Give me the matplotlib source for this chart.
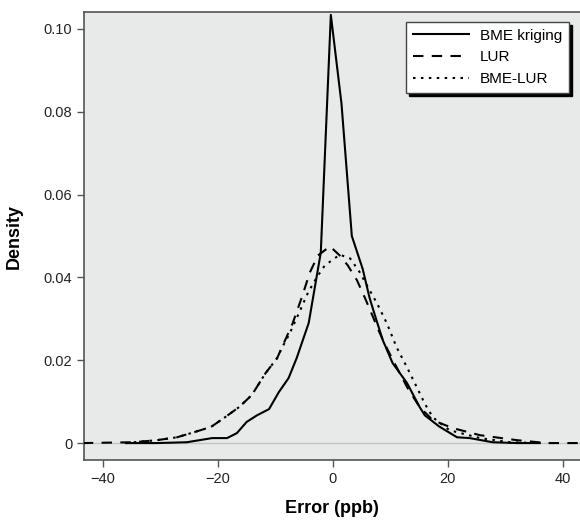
import matplotlib
matplotlib.use("Agg")
import matplotlib.pyplot as plt

# Error (ppb) vs density
KRIG_X = [-36, -30.6, -25.4, -21.0, -18.4, -16.7, -15.0, -13.2, -11.1, -9.4, -7.7,
          -6.3, -4.2, -2.1, -0.35, 1.5, 3.3, 5.2, 6.4, 7.6, 8.7, 10.4, 12.9, 15.1,
          16.0, 18.5, 21.6, 23.8, 27.8, 32.0, 36.0]
KRIG_Y = [0.0, 0.0, 0.0002, 0.0012, 0.0012, 0.0024, 0.0051, 0.0067, 0.0082, 0.0123, 0.0157,
          0.0205, 0.029, 0.046, 0.1034, 0.082, 0.050, 0.042, 0.035, 0.0296, 0.0248, 0.0193,
          0.0145, 0.0087, 0.0067, 0.0040, 0.0014, 0.0012, 0.0002, 0.0, 0.0]

LUR_X = [-43.5, -34.6, -30.6, -27.1, -24.2, -21.2, -19.0, -16.3, -14.1, -11.7, -9.7,
         -7.0, -5.4, -4.0, -2.6, -0.5, 1.2, 2.6, 4.2, 5.6, 7.0, 7.8, 9.0, 11.1, 13.0,
         15.1, 17.4, 20.9, 25.6, 32.0, 37.2, 43.5]
LUR_Y = [0.0, 0.0002, 0.0007, 0.0014, 0.0026, 0.0039, 0.0060, 0.0087, 0.0116, 0.0169, 0.0205,
         0.0289, 0.0352, 0.0412, 0.0453, 0.0475, 0.0453, 0.0429, 0.0393, 0.035, 0.0304, 0.0277,
         0.024, 0.0183, 0.0133, 0.0087, 0.0055, 0.0036, 0.0019, 0.0007, 0.0, 0.0]

BMELUR_X = [-36, -34.6, -30.6, -27.1, -24.2, -21.2, -19.0, -16.3, -14.1, -11.7, -9.7,
            -8.9, -7.5, -5.7, -4.3, -2.8, -1.4, 1.2, 3.0, 4.7, 6.4, 7.7, 9.4, 11.1,
            12.9, 14.6, 16.0, 17.4, 20.3, 25.6, 30.8, 36.0]
BMELUR_Y = [0.0, 0.0002, 0.0007, 0.0014, 0.0026, 0.0039, 0.0060, 0.0087, 0.0116, 0.0169, 0.0205,
            0.0229, 0.0265, 0.032, 0.0364, 0.040, 0.0429, 0.0455, 0.0446, 0.0412, 0.0369, 0.0337,
            0.0289, 0.0231, 0.0183, 0.0135, 0.0095, 0.0062, 0.0031, 0.0012, 0.0002, 0.0]

X_TICKS = [-40, -20, 0, 20, 40]
X_TICK_LABELS = ["\u221240", "\u221220", "0", "20", "40"]
Y_TICKS = [0, 0.02, 0.04, 0.06, 0.08, 0.10]
Y_TICK_LABELS = ["0", "0.02", "0.04", "0.06", "0.08", "0.10"]

FONT = ["Liberation Sans Narrow", "Liberation Sans", "DejaVu Sans"]
PANEL = "#e8e9e9"
SPINE = "#555555"

plt.rcParams["font.family"] = FONT

fig = plt.figure(figsize=(5.8, 5.21), dpi=100)
ax = fig.add_axes([0.1448, 0.117, 0.8552, 0.86])
ax.set_facecolor(PANEL)

ax.axhline(0, color="#c4c4c4", linewidth=1.0, zorder=1)
ax.plot(KRIG_X, KRIG_Y, color="black", linewidth=1.5, label="BME kriging", zorder=3)
ax.plot(LUR_X, LUR_Y, color="black", linewidth=1.5, linestyle=(0, (5, 4)),
        label="LUR", zorder=3)
ax.plot(BMELUR_X, BMELUR_Y, color="black", linewidth=1.5, linestyle=(0, (1.2, 2.6)),
        label="BME-LUR", zorder=3)

ax.set_xlim(-43.3, 43.0)
ax.set_ylim(-0.0041, 0.1041)
ax.set_xticks(X_TICKS)
ax.set_xticklabels(X_TICK_LABELS)
ax.set_yticks(Y_TICKS)
ax.set_yticklabels(Y_TICK_LABELS)
ax.tick_params(direction="out", length=5, width=1, color=SPINE, labelsize=10.5,
               labelcolor="#222222")

for side in ("left", "bottom", "top"):
    ax.spines[side].set_color(SPINE)
    ax.spines[side].set_linewidth(1.2)
ax.spines["right"].set_visible(False)

ax.set_xlabel("Error (ppb)", fontsize=13, fontweight="bold", labelpad=10)
ax.set_ylabel("Density", fontsize=13, fontweight="bold")
ax.yaxis.set_label_coords(-0.123, 0.5)

leg = ax.legend(loc="upper right", bbox_to_anchor=(0.978, 0.978), borderaxespad=0,
                fontsize=11, handlelength=3.7, handletextpad=0.7, fancybox=False,
                frameon=True, borderpad=0.45, labelspacing=0.5,
                shadow={"color": "black", "alpha": 1.0})
leg.get_frame().set_edgecolor("#444444")
leg.get_frame().set_linewidth(1.0)
leg.get_frame().set_facecolor("white")

fig.savefig("out.png", dpi=100, facecolor="white")
